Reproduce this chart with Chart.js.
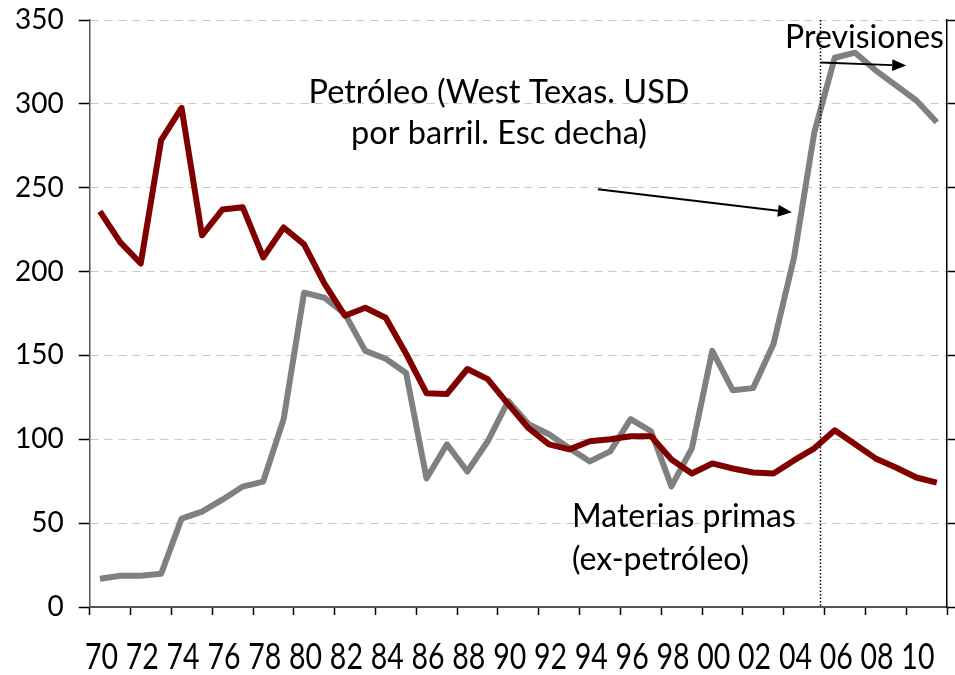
<!DOCTYPE html>
<html>
<head>
<meta charset="utf-8">
<script src="https://cdn.jsdelivr.net/npm/chart.js@4.4.1/dist/chart.umd.min.js"></script>
<style>
  html, body { margin: 0; padding: 0; background: #fff; }
  #wrap { width: 955px; height: 675px; }
</style>
</head>
<body>
<div id="wrap"><canvas id="precios"></canvas></div>
<script>
// años 1970-2011
const years = ["70", "71", "72", "73", "74", "75", "76", "77", "78", "79",
  "80", "81", "82", "83", "84", "85", "86", "87", "88", "89",
  "90", "91", "92", "93", "94", "95", "96", "97", "98", "99",
  "00", "01", "02", "03", "04", "05", "06", "07", "08", "09",
  "10", "11"];

// materias primas ex-petróleo (escala izquierda)
const materias = [235.9, 217.4, 204.8, 278.4, 297.6, 221.6, 237, 238.3, 208.4, 226.3,
  216.2, 192.8, 173.7, 178.4, 172.5, 151, 127.5, 127, 141.9, 135.9,
  121, 106.6, 97, 94, 98.8, 100, 101.8, 101.8, 88, 79.6,
  85.6, 82.6, 80.2, 79.6, 87.4, 94.6, 105.4, 97, 88.6, 83.2,
  77.2, 74.2];

// petróleo West Texas (escala derecha)
const petroleo = [16.8, 18.6, 18.6, 19.8, 52.7, 56.9, 64, 71.8, 74.8, 112,
  187.4, 184.4, 174.8, 152.7, 148, 139.5, 76.6, 97, 80.8, 98.8,
  122.8, 109, 103, 94.6, 86.8, 92.8, 112, 104.8, 71.9, 94.6,
  152.7, 129.3, 130.5, 156.8, 208, 283, 327.5, 330.5, 320, 311,
  302, 289];

const yTicks = [0, 50, 100, 150, 200, 250, 300, 350];

// inicio de las previsiones (entre 2005 y 2006)
const forecastStart = 35.3;

const textFont = "32px Lato, 'Open Sans', sans-serif";

// marcas del eje x cada dos años (en los límites de categoría)
const xTickColors = [];
for (let i = 0; i <= years.length; i++) xTickColors.push(i % 2 === 0 ? "#000" : "rgba(0,0,0,0)");

function arrow(ctx, x1, y1, x2, y2) {
  const a = Math.atan2(y2 - y1, x2 - x1);
  const len = 14, w = 6;
  ctx.beginPath();
  ctx.moveTo(x1, y1);
  ctx.lineTo(x2 - len * Math.cos(a), y2 - len * Math.sin(a));
  ctx.stroke();
  ctx.beginPath();
  ctx.moveTo(x2, y2);
  ctx.lineTo(x2 - len * Math.cos(a) + w * Math.sin(a), y2 - len * Math.sin(a) - w * Math.cos(a));
  ctx.lineTo(x2 - len * Math.cos(a) - w * Math.sin(a), y2 - len * Math.sin(a) + w * Math.cos(a));
  ctx.closePath();
  ctx.fill();
}

const notes = {
  id: "notes",
  afterDatasetsDraw(chart) {
    const ctx = chart.ctx;
    const x = chart.scales.x, y = chart.scales.y, area = chart.chartArea;
    ctx.save();
    // línea vertical punteada
    const fx = Math.round(x.getPixelForValue(forecastStart)) + 0.5;
    ctx.strokeStyle = "#000";
    ctx.lineWidth = 1.5;
    ctx.setLineDash([1.5, 2]);
    ctx.beginPath();
    ctx.moveTo(fx, area.top);
    ctx.lineTo(fx, area.bottom);
    ctx.stroke();
    ctx.setLineDash([]);

    // flechas
    ctx.lineWidth = 2;
    ctx.fillStyle = "#000";
    arrow(ctx, fx, y.getPixelForValue(324.6), x.getPixelForValue(39.5), y.getPixelForValue(322.8));
    arrow(ctx, x.getPixelForValue(24.4), y.getPixelForValue(249.1), x.getPixelForValue(33.9), y.getPixelForValue(235.3));

    // textos
    ctx.fillStyle = "#000";
    ctx.textBaseline = "alphabetic";
    ctx.textAlign = "center";
    ctx.font = "32.5px Lato, 'Open Sans', sans-serif";
    ctx.fillText("Petróleo (West Texas. USD", 499, 103);
    ctx.fillText("por barril. Esc decha)", 499, 144);
    ctx.font = textFont;
    ctx.textAlign = "left";
    ctx.fillText("Previsiones", 785, 48);
    ctx.fillText("Materias primas", 572, 527);
    ctx.fillText("(ex-petróleo)", 572, 570);

    // etiquetas del eje x (tipografía estrecha)
    const sx = 0.76;
    ctx.font = "37.5px Lato, 'Open Sans', sans-serif";
    ctx.textAlign = "center";
    ctx.textBaseline = "middle";
    ctx.scale(sx, 1);
    years.forEach((lab, i) => {
      if (i % 2 !== 0) return;
      ctx.fillText(lab, x.getPixelForValue(i) / sx + 2, area.bottom + 50);
    });
    ctx.restore();
  }
};

new Chart(document.getElementById("precios"), {
  type: "line",
  data: {
    labels: years,
    datasets: [
      {
        label: "Materias primas (ex-petróleo)",
        data: materias,
        borderColor: "#800000",
        borderWidth: 6,
        borderJoinStyle: "round",
        pointRadius: 0,
        tension: 0,
        yAxisID: "y",
      },
      {
        label: "Petróleo (West Texas. USD por barril)",
        data: petroleo,
        borderColor: "#808080",
        borderWidth: 6,
        borderJoinStyle: "round",
        pointRadius: 0,
        tension: 0,
        yAxisID: "y1",
      },
    ],
  },
  options: {
    responsive: true,
    maintainAspectRatio: false,
    animation: false,
    layout: { autoPadding: false, padding: { left: 0, top: 20, right: 0, bottom: 60 } },
    plugins: {
      legend: { display: false },
      tooltip: { enabled: false },
    },
    scales: {
      x: {
        offset: true,
        grid: {
          offset: true,
          drawOnChartArea: false,
          tickLength: 8,
          tickColor: xTickColors,
          tickWidth: 1.5,
        },
        border: { color: "#555", width: 2 },
        ticks: { display: false },
      },
      y: {
        position: "left",
        min: 0,
        max: 350,
        afterBuildTicks: (s) => { s.ticks = yTicks.map((v) => ({ value: v })); },
        grid: {
          color: "#c8c8c8",
          tickColor: "#000",
          tickLength: 11,
          lineWidth: 1,
          tickWidth: 1.5,
        },
        border: { color: "#555", width: 1.5, dash: [8, 6] },
        ticks: {
          padding: 15,
          color: "#000",
          font: { family: "Lato, 'Open Sans', sans-serif", size: 28, lineHeight: 0.3 },
        },
      },
      y1: {
        position: "right",
        min: 0,
        max: 350,
        afterBuildTicks: (s) => { s.ticks = yTicks.map((v) => ({ value: v })); },
        grid: {
          drawOnChartArea: false,
          tickColor: "#000",
          tickLength: 8,
          tickWidth: 1.5,
        },
        border: { color: "#000", width: 1.5 },
        ticks: { display: false },
      },
    },
  },
  plugins: [notes],
});
</script>
</body>
</html>
